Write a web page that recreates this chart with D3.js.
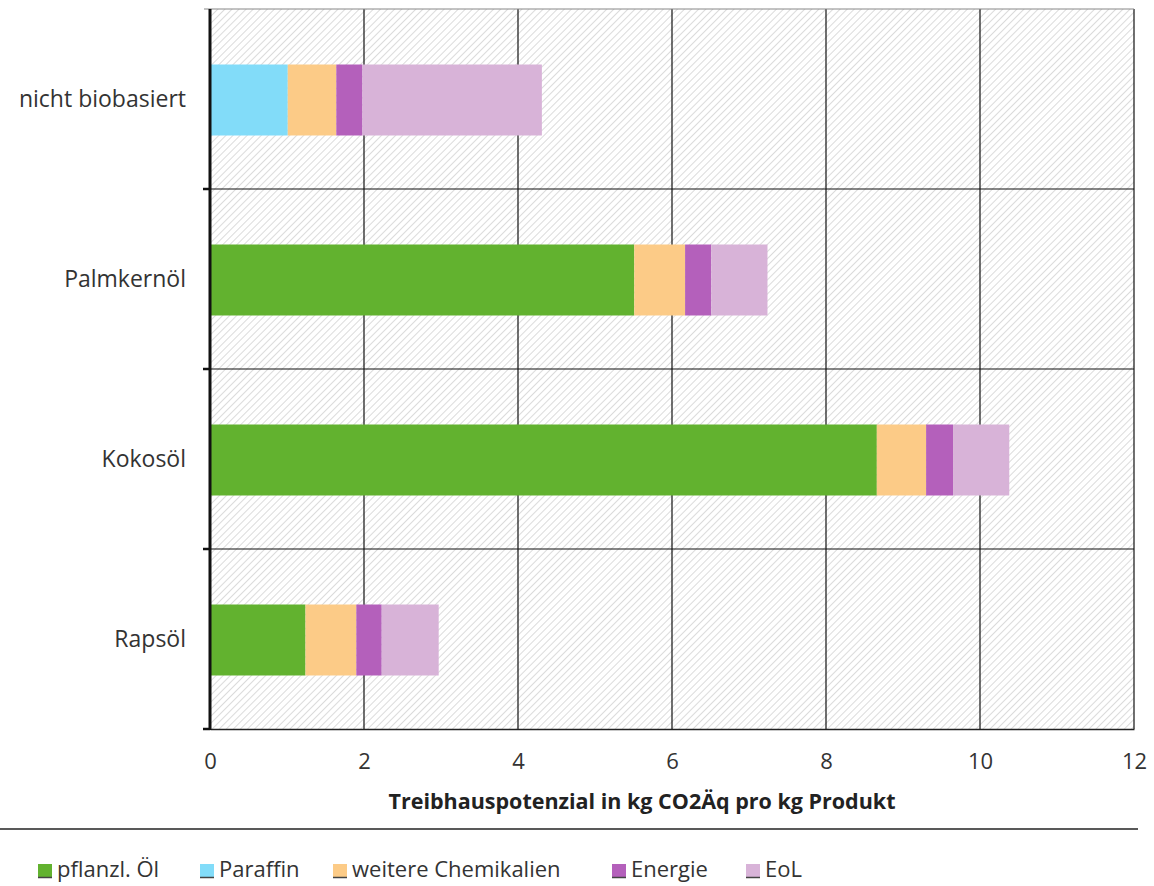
<!DOCTYPE html>
<html>
<head>
<meta charset="utf-8">
<script src="https://cdn.jsdelivr.net/npm/d3@7"></script>
<style>
  html, body { margin: 0; padding: 0; background: #fff; }
  svg { display: block; font-family: "Open Sans", "Liberation Sans", sans-serif; }
</style>
</head>
<body>
<svg id="chart" width="1154" height="886"></svg>
<script>
// Kategorien (von oben nach unten) und Beiträge je Prozessschritt
const categories = ["nicht biobasiert", "Palmkernöl", "Kokosöl", "Rapsöl"];
const seriesNames = ["pflanzl. Öl", "Paraffin", "weitere Chemikalien", "Energie", "EoL"];
const pflanzlOel = [0, 5.51, 8.66, 1.24];
const paraffin   = [1.01, 0, 0, 0];
const chemikalien = [0.63, 0.66, 0.64, 0.66];
const energie    = [0.34, 0.34, 0.35, 0.33];
const eol        = [2.33, 0.73, 0.73, 0.74];
const xTicks = [0, 2, 4, 6, 8, 10, 12];
const colors = ["#62b22f", "#82dcf9", "#fccb87", "#b460bb", "#d8b3d8"];

const seriesValues = [pflanzlOel, paraffin, chemikalien, energie, eol];
const rows = categories.map((c, i) => {
  const r = { cat: c };
  seriesNames.forEach((s, j) => r[s] = seriesValues[j][i]);
  return r;
});

const svg = d3.select("#chart");
const m = { left: 210, right: 1134, top: 9, bottom: 729 };

const x = d3.scaleLinear().domain([0, 12]).range([m.left, m.right]);
const y = d3.scaleBand().domain(categories).range([m.top, m.bottom]).paddingInner(0).paddingOuter(0);

// Schraffur des Diagrammhintergrunds
const defs = svg.append("defs");
const pat = defs.append("pattern")
  .attr("id", "hatch").attr("patternUnits", "userSpaceOnUse")
  .attr("width", 5).attr("height", 5)
  .attr("patternTransform", "rotate(45)");
pat.append("rect").attr("width", 5).attr("height", 5).attr("fill", "#ffffff");
pat.append("line").attr("x1", 0).attr("y1", 0).attr("x2", 0).attr("y2", 5)
  .attr("stroke", "#c8c8c8").attr("stroke-width", 1.3);

svg.append("rect")
  .attr("x", x(0)).attr("y", m.top)
  .attr("width", x(12) - x(0)).attr("height", m.bottom - m.top)
  .attr("fill", "url(#hatch)");

// Gitterlinien
svg.append("g").selectAll("line").data(xTicks.slice(1))
  .join("line")
  .attr("x1", d => x(d)).attr("x2", d => x(d))
  .attr("y1", m.top).attr("y2", m.bottom)
  .attr("stroke", "#111").attr("stroke-width", 1.2);

const bounds = categories.slice(1).map(c => y(c));
svg.append("g").selectAll("line").data(bounds)
  .join("line")
  .attr("x1", x(0)).attr("x2", x(12))
  .attr("y1", d => d).attr("y2", d => d)
  .attr("stroke", "#111").attr("stroke-width", 1.2);

// obere Begrenzung
svg.append("line")
  .attr("x1", x(0) - 6).attr("x2", x(12))
  .attr("y1", m.top).attr("y2", m.top)
  .attr("stroke", "#888").attr("stroke-width", 1.2);

// gestapelte Balken
const stack = d3.stack().keys(seriesNames);
const stacked = stack(rows);
const barH = 71;
svg.append("g").selectAll("g").data(stacked)
  .join("g")
  .attr("fill", (d, i) => colors[i])
  .selectAll("rect").data(d => d.filter(p => p[1] - p[0] > 0))
  .join("rect")
  .attr("x", d => x(d[0]))
  .attr("width", d => x(d[1]) - x(d[0]))
  .attr("y", d => y(d.data.cat) + y.bandwidth() / 2 - barH / 2 + 1)
  .attr("height", barH);

// x-Achse
const xAxis = svg.append("g")
  .attr("transform", `translate(0,${m.bottom})`)
  .call(d3.axisBottom(x).tickValues(xTicks).tickSize(0).tickPadding(24));
xAxis.attr("font-family", null).attr("font-size", null);
xAxis.select(".domain").attr("stroke", "#222").attr("stroke-width", 1.6);
xAxis.selectAll("text").attr("font-size", 22).attr("fill", "#333");

// y-Achse
const yAxis = svg.append("g").attr("transform", `translate(${m.left},0)`);
yAxis.append("line")
  .attr("x1", 0).attr("x2", 0).attr("y1", m.top).attr("y2", m.bottom + 1)
  .attr("stroke", "#111").attr("stroke-width", 3);
yAxis.selectAll("line.tick").data(bounds.concat([m.bottom]))
  .join("line").attr("class", "tick")
  .attr("x1", -7).attr("x2", 0)
  .attr("y1", d => d).attr("y2", d => d)
  .attr("stroke", "#111").attr("stroke-width", 2.5);
yAxis.selectAll("text").data(categories)
  .join("text")
  .attr("x", -24)
  .attr("y", d => y(d) + y.bandwidth() / 2)
  .attr("dy", "0.35em")
  .attr("text-anchor", "end")
  .attr("font-size", 23)
  .attr("fill", "#333")
  .text(d => d);

// Achsentitel
svg.append("text")
  .attr("x", 642).attr("y", 809)
  .attr("text-anchor", "middle")
  .attr("font-size", 21.5).attr("font-weight", "bold").attr("fill", "#222")
  .text("Treibhauspotenzial  in kg CO2Äq pro kg Produkt");

// Trennlinie über der Legende
svg.append("line")
  .attr("x1", 0).attr("x2", 1138).attr("y1", 829).attr("y2", 829)
  .attr("stroke", "#222").attr("stroke-width", 1.5);

// Legende
const legendX = [38, 200, 333, 612, 746];
const leg = svg.append("g").selectAll("g").data(seriesNames)
  .join("g")
  .attr("transform", (d, i) => `translate(${legendX[i]},877)`);
leg.append("rect")
  .attr("x", 0).attr("y", -13).attr("width", 14).attr("height", 14)
  .attr("fill", (d, i) => colors[i]);
leg.append("line")
  .attr("x1", 0).attr("x2", 14).attr("y1", 0.5).attr("y2", 0.5)
  .attr("stroke", "#444").attr("stroke-width", 1.5);
leg.append("text")
  .attr("x", 19).attr("y", 0)
  .attr("font-size", 22).attr("fill", "#333")
  .text(d => d);
</script>
</body>
</html>
